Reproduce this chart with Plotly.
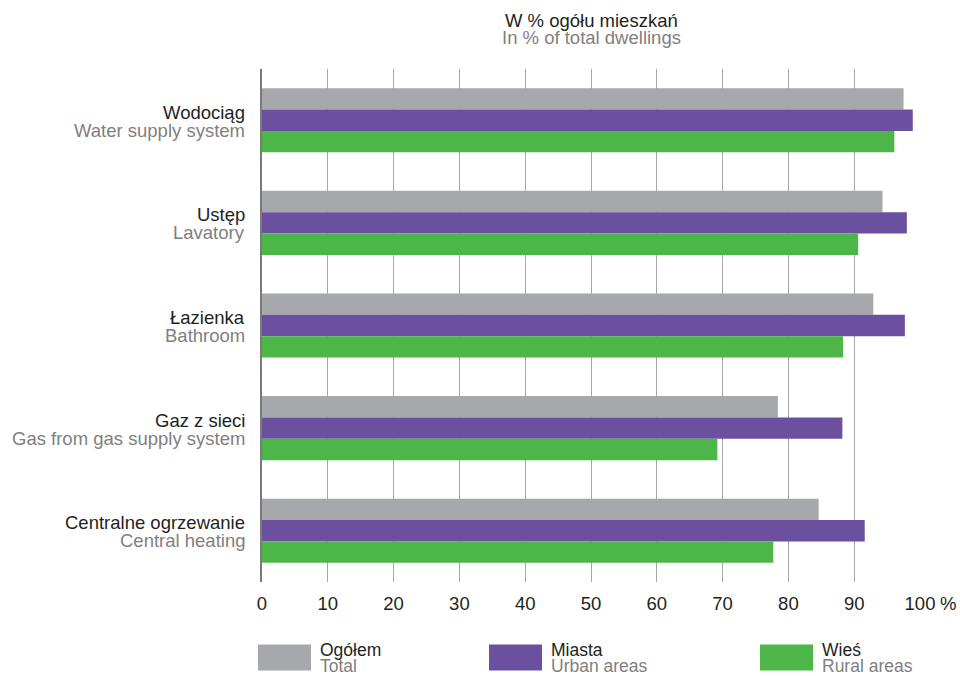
import plotly.graph_objects as go

categories = ["Wodociąg", "Ustęp", "Łazienka", "Gaz z sieci", "Centralne ogrzewanie"]
categories_en = ["Water supply system", "Lavatory", "Bathroom",
                 "Gas from gas supply system", "Central heating"]
total = [97.5, 94.3, 92.9, 78.4, 84.6]
urban = [98.9, 98.0, 97.7, 88.2, 91.6]
rural = [96.1, 90.6, 88.3, 69.2, 77.7]
series_names = ["Ogółem", "Miasta", "Wieś"]
series_names_en = ["Total", "Urban areas", "Rural areas"]
x_ticks = [0, 10, 20, 30, 40, 50, 60, 70, 80, 90, 100]
x_ticklabels = ["0", "10", "20", "30", "40", "50", "60", "70", "80", "90", "100"]
x_unit = "%"

colors = ["#a7a8ab", "#6b50a0", "#4cb748"]
DARK = "#231f20"
GRAY = "#808080"
FONT = "Liberation Sans, Arial, sans-serif"
FS = 18.5

fig = go.Figure()
for name, vals, col in zip(series_names, [total, urban, rural], colors):
    fig.add_trace(go.Bar(
        y=categories, x=vals, orientation="h", name=name,
        marker=dict(color=col, line=dict(width=0)),
        showlegend=False, hoverinfo="skip",
    ))

PW, PH = 658, 513  # plot area in px

fig.update_layout(
    width=960, height=676,
    margin=dict(l=262, r=40, t=69, b=94, autoexpand=False),
    paper_bgcolor="white", plot_bgcolor="white",
    barmode="group", bargap=0.375, bargroupgap=0,
    font=dict(family=FONT, color=DARK, size=FS),
    xaxis=dict(
        range=[0, 100], tickvals=x_ticks, ticktext=x_ticklabels,
        showgrid=True, gridcolor="#a6a6a6", gridwidth=1.3,
        zeroline=False, showline=False, automargin=False,
        tickfont=dict(size=FS, color=DARK), ticks="", ticklabelstandoff=8,
    ),
    yaxis=dict(
        categoryorder="array", categoryarray=categories,
        autorange="reversed", showticklabels=False,
        showgrid=False, zeroline=False,
        showline=True, linecolor="#7a7a7a", linewidth=1.5,
        ticks="",
    ),
)

# "%" unit after the last tick label
fig.add_annotation(xref="x", yref="paper", x=x_ticks[-1], y=(582 - 604) / PH,
                   xshift=18, text=x_unit, showarrow=False,
                   xanchor="left", yanchor="middle",
                   font=dict(size=FS, color=DARK))

# Category labels (two lines each)
for pl, en in zip(categories, categories_en):
    fig.add_annotation(xref="paper", yref="y", x=0, y=pl, xshift=-15, yshift=8,
                       text=pl, showarrow=False, xanchor="right", yanchor="middle",
                       font=dict(size=FS, color=DARK))
    fig.add_annotation(xref="paper", yref="y", x=0, y=pl, xshift=-15, yshift=-10,
                       text=en, showarrow=False, xanchor="right", yanchor="middle",
                       font=dict(size=FS, color=GRAY))

# Title (two lines)
fig.add_annotation(xref="paper", yref="paper", x=0.5, y=1, yshift=49,
                   text="W % ogółu mieszkań", showarrow=False,
                   font=dict(size=FS, color=DARK), xanchor="center", yanchor="middle")
fig.add_annotation(xref="paper", yref="paper", x=0.5, y=1, yshift=31.5,
                   text="In % of total dwellings", showarrow=False,
                   font=dict(size=FS, color=GRAY), xanchor="center", yanchor="middle")

# Legend with swatches (page px -> paper coords)
def px(xp):
    return (xp - 262) / PW

def py(yp):
    return (582 - yp) / PH

legend_x = [258, 489, 760]
for lx, col, n, ne in zip(legend_x, colors, series_names, series_names_en):
    fig.add_shape(type="rect", xref="paper", yref="paper",
                  x0=px(lx), x1=px(lx + 53), y0=py(644.5), y1=py(670.5),
                  fillcolor=col, line=dict(width=0))
    fig.add_annotation(xref="paper", yref="paper", x=px(lx + 60), y=py(649.5),
                       text=n, showarrow=False, xanchor="left", yanchor="middle",
                       font=dict(size=17.5, color=DARK))
    fig.add_annotation(xref="paper", yref="paper", x=px(lx + 60), y=py(665.5),
                       text=ne, showarrow=False, xanchor="left", yanchor="middle",
                       font=dict(size=17.5, color=GRAY))

fig.write_html("out.html",
               config={"displayModeBar": False},
               post_script="document.body.style.margin='0';"
                           "document.body.style.overflow='hidden';")
